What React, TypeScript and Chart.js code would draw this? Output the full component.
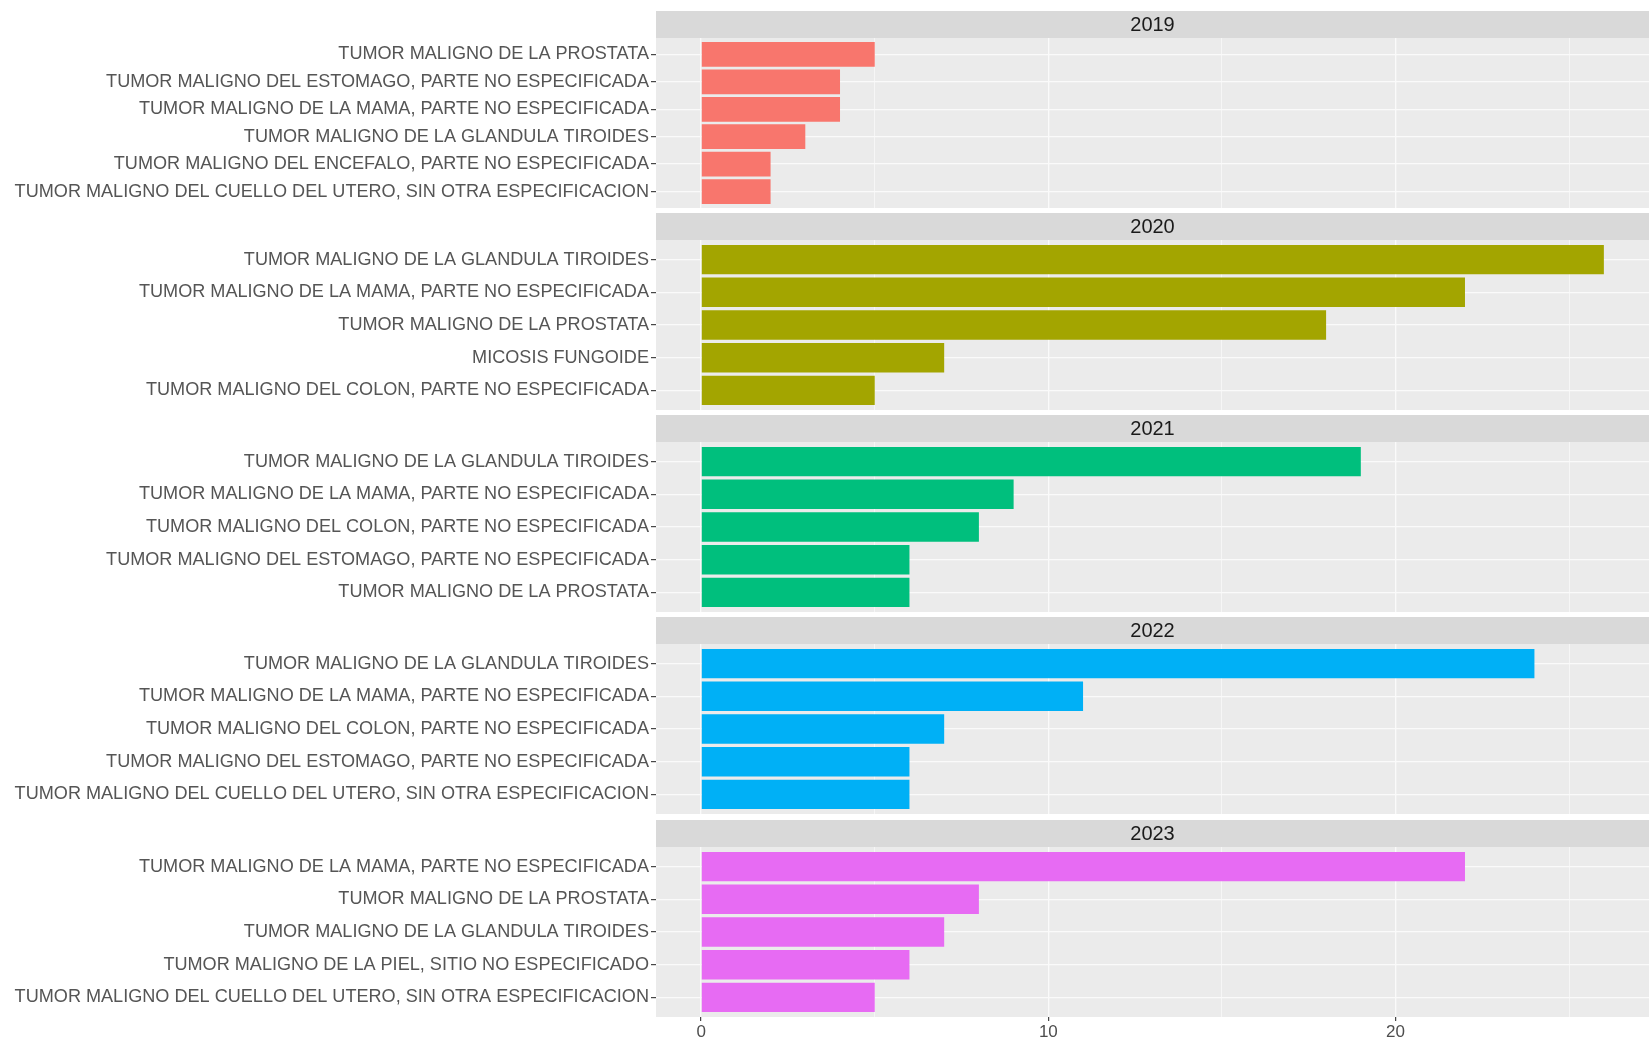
import React, { useEffect, useRef } from "react";
import { Chart, registerables } from "chart.js";

Chart.register(...registerables);

const YEARS = ["2019", "2020", "2021", "2022", "2023"];

const LABELS_2019 = [
  "TUMOR MALIGNO DE LA PROSTATA",
  "TUMOR MALIGNO DEL ESTOMAGO, PARTE NO ESPECIFICADA",
  "TUMOR MALIGNO DE LA MAMA, PARTE NO ESPECIFICADA",
  "TUMOR MALIGNO DE LA GLANDULA TIROIDES",
  "TUMOR MALIGNO DEL ENCEFALO, PARTE NO ESPECIFICADA",
  "TUMOR MALIGNO DEL CUELLO DEL UTERO, SIN OTRA ESPECIFICACION",
];
const VALUES_2019 = [5, 4, 4, 3, 2, 2];

const LABELS_2020 = [
  "TUMOR MALIGNO DE LA GLANDULA TIROIDES",
  "TUMOR MALIGNO DE LA MAMA, PARTE NO ESPECIFICADA",
  "TUMOR MALIGNO DE LA PROSTATA",
  "MICOSIS FUNGOIDE",
  "TUMOR MALIGNO DEL COLON, PARTE NO ESPECIFICADA",
];
const VALUES_2020 = [26, 22, 18, 7, 5];

const LABELS_2021 = [
  "TUMOR MALIGNO DE LA GLANDULA TIROIDES",
  "TUMOR MALIGNO DE LA MAMA, PARTE NO ESPECIFICADA",
  "TUMOR MALIGNO DEL COLON, PARTE NO ESPECIFICADA",
  "TUMOR MALIGNO DEL ESTOMAGO, PARTE NO ESPECIFICADA",
  "TUMOR MALIGNO DE LA PROSTATA",
];
const VALUES_2021 = [19, 9, 8, 6, 6];

const LABELS_2022 = [
  "TUMOR MALIGNO DE LA GLANDULA TIROIDES",
  "TUMOR MALIGNO DE LA MAMA, PARTE NO ESPECIFICADA",
  "TUMOR MALIGNO DEL COLON, PARTE NO ESPECIFICADA",
  "TUMOR MALIGNO DEL ESTOMAGO, PARTE NO ESPECIFICADA",
  "TUMOR MALIGNO DEL CUELLO DEL UTERO, SIN OTRA ESPECIFICACION",
];
const VALUES_2022 = [24, 11, 7, 6, 6];

const LABELS_2023 = [
  "TUMOR MALIGNO DE LA MAMA, PARTE NO ESPECIFICADA",
  "TUMOR MALIGNO DE LA PROSTATA",
  "TUMOR MALIGNO DE LA GLANDULA TIROIDES",
  "TUMOR MALIGNO DE LA PIEL, SITIO NO ESPECIFICADO",
  "TUMOR MALIGNO DEL CUELLO DEL UTERO, SIN OTRA ESPECIFICACION",
];
const VALUES_2023 = [22, 8, 7, 6, 5];

const COLORS = ["#F8766D", "#A3A500", "#00BF7D", "#00B0F6", "#E76BF3"];

const X_MAJOR_TICKS = [0, 10, 20];
const X_MINOR_TICKS = [5, 15, 25];
const X_MIN = -1.3;
const X_MAX = 27.3;

const FACETS = [
  { year: YEARS[0], labels: LABELS_2019, values: VALUES_2019, color: COLORS[0] },
  { year: YEARS[1], labels: LABELS_2020, values: VALUES_2020, color: COLORS[1] },
  { year: YEARS[2], labels: LABELS_2021, values: VALUES_2021, color: COLORS[2] },
  { year: YEARS[3], labels: LABELS_2022, values: VALUES_2022, color: COLORS[3] },
  { year: YEARS[4], labels: LABELS_2023, values: VALUES_2023, color: COLORS[4] },
];

const FONT = "'Liberation Sans', Arial, Helvetica, sans-serif";
const STRIP_H = 27;
const PANEL_H = 170;
const FIRST_TOP = 10.5;
const STEP = 202.3;
const AXIS_W = 656;
const X_AXIS_H = 30;
const WIDTH = 1652;

const panelPlugin = {
  id: "panelBg",
  beforeDraw(chart: any, _args: any, opts: any) {
    const { ctx, chartArea } = chart;
    ctx.save();
    ctx.fillStyle = "#EBEBEB";
    ctx.fillRect(chartArea.left, chartArea.top, chartArea.right - chartArea.left, chartArea.bottom - chartArea.top);
    ctx.fillStyle = "#D9D9D9";
    ctx.fillRect(chartArea.left, chartArea.top - STRIP_H, chartArea.right - chartArea.left, STRIP_H);
    ctx.fillStyle = "#1A1A1A";
    ctx.font = `20px ${FONT}`;
    ctx.textAlign = "center";
    ctx.textBaseline = "middle";
    ctx.fillText(opts.title, (chartArea.left + chartArea.right) / 2, chartArea.top - STRIP_H / 2 + 1);
    ctx.restore();
  },
};

function Facet({ facet, index, showX }: { facet: any; index: number; showX: boolean }) {
  const ref = useRef<HTMLCanvasElement | null>(null);
  const height = STRIP_H + PANEL_H + (showX ? X_AXIS_H : 0);
  const top = Math.round(FIRST_TOP + index * STEP);

  useEffect(() => {
    if (!ref.current) return;
    const labels: string[] = facet.labels;
    const n = labels.length;
    const chart = new Chart(ref.current, {
      type: "bar",
      data: {
        datasets: [
          {
            data: facet.values.map((v: number, i: number) => ({ x: v, y: i })),
            backgroundColor: facet.color,
            borderWidth: 0,
            barPercentage: 0.9,
            categoryPercentage: 1,
          },
        ],
      },
      options: {
        indexAxis: "y",
        responsive: false,
        maintainAspectRatio: false,
        animation: false,
        layout: { padding: { top: STRIP_H, right: 3, left: 0, bottom: 0 } },
        plugins: {
          legend: { display: false },
          tooltip: { enabled: false },
          title: { display: false },
          panelBg: { title: facet.year },
        } as any,
        scales: {
          x: {
            type: "linear",
            min: X_MIN,
            max: X_MAX,
            offset: false,
            border: { display: false },
            afterBuildTicks: (scale: any) => {
              scale.ticks = [...X_MAJOR_TICKS, ...X_MINOR_TICKS]
                .sort((a, b) => a - b)
                .map((v) => ({ value: v }));
            },
            afterFit: (scale: any) => {
              scale.height = showX ? X_AXIS_H : 0;
              scale.paddingLeft = 0;
              scale.paddingRight = 0;
            },
            ticks: {
              display: showX,
              autoSkip: false,
              maxRotation: 0,
              padding: 1,
              color: "#4D4D4D",
              font: { family: FONT, size: 17 },
              callback: (v: any) => (X_MAJOR_TICKS.includes(Number(v)) ? String(v) : ""),
            },
            grid: {
              offset: false,
              color: "#FAFAFA",
              lineWidth: (c: any) => (X_MAJOR_TICKS.includes(c.tick?.value) ? 1.3 : 0.7),
              drawTicks: showX,
              tickLength: 4,
              tickColor: (c: any) => (X_MAJOR_TICKS.includes(c.tick?.value) ? "#333333" : "rgba(0,0,0,0)"),
              tickWidth: 1.1,
            },
          },
          y: {
            type: "linear",
            reverse: true,
            min: -0.6,
            max: n - 1 + 0.6,
            offset: false,
            border: { display: false },
            afterBuildTicks: (scale: any) => {
              scale.ticks = labels.map((_, i) => ({ value: i }));
            },
            afterFit: (scale: any) => {
              scale.width = AXIS_W;
              scale.paddingTop = 0;
              scale.paddingBottom = 0;
            },
            ticks: {
              autoSkip: false,
              padding: 2,
              color: "#555555",
              font: { family: FONT, size: 18.1 },
              callback: (v: any) => labels[Number(v)] ?? "",
            },
            grid: {
              offset: false,
              color: "#FAFAFA",
              lineWidth: 1.3,
              drawTicks: true,
              tickLength: 5,
              tickColor: "#333333",
              tickWidth: 1.1,
            },
          },
        },
      } as any,
      plugins: [panelPlugin],
    });
    return () => chart.destroy();
  }, [facet, showX]);

  return (
    <canvas
      ref={ref}
      width={WIDTH}
      height={height}
      style={{ position: "absolute", left: 0, top, width: WIDTH, height }}
    />
  );
}

export default function App() {
  return (
    <div
      style={{
        position: "absolute",
        left: 0,
        top: 0,
        width: WIDTH,
        height: 1045,
        background: "#FFFFFF",
        overflow: "hidden",
      }}
    >
      {FACETS.map((f, i) => (
        <Facet key={f.year} facet={f} index={i} showX={i === FACETS.length - 1} />
      ))}
    </div>
  );
}
